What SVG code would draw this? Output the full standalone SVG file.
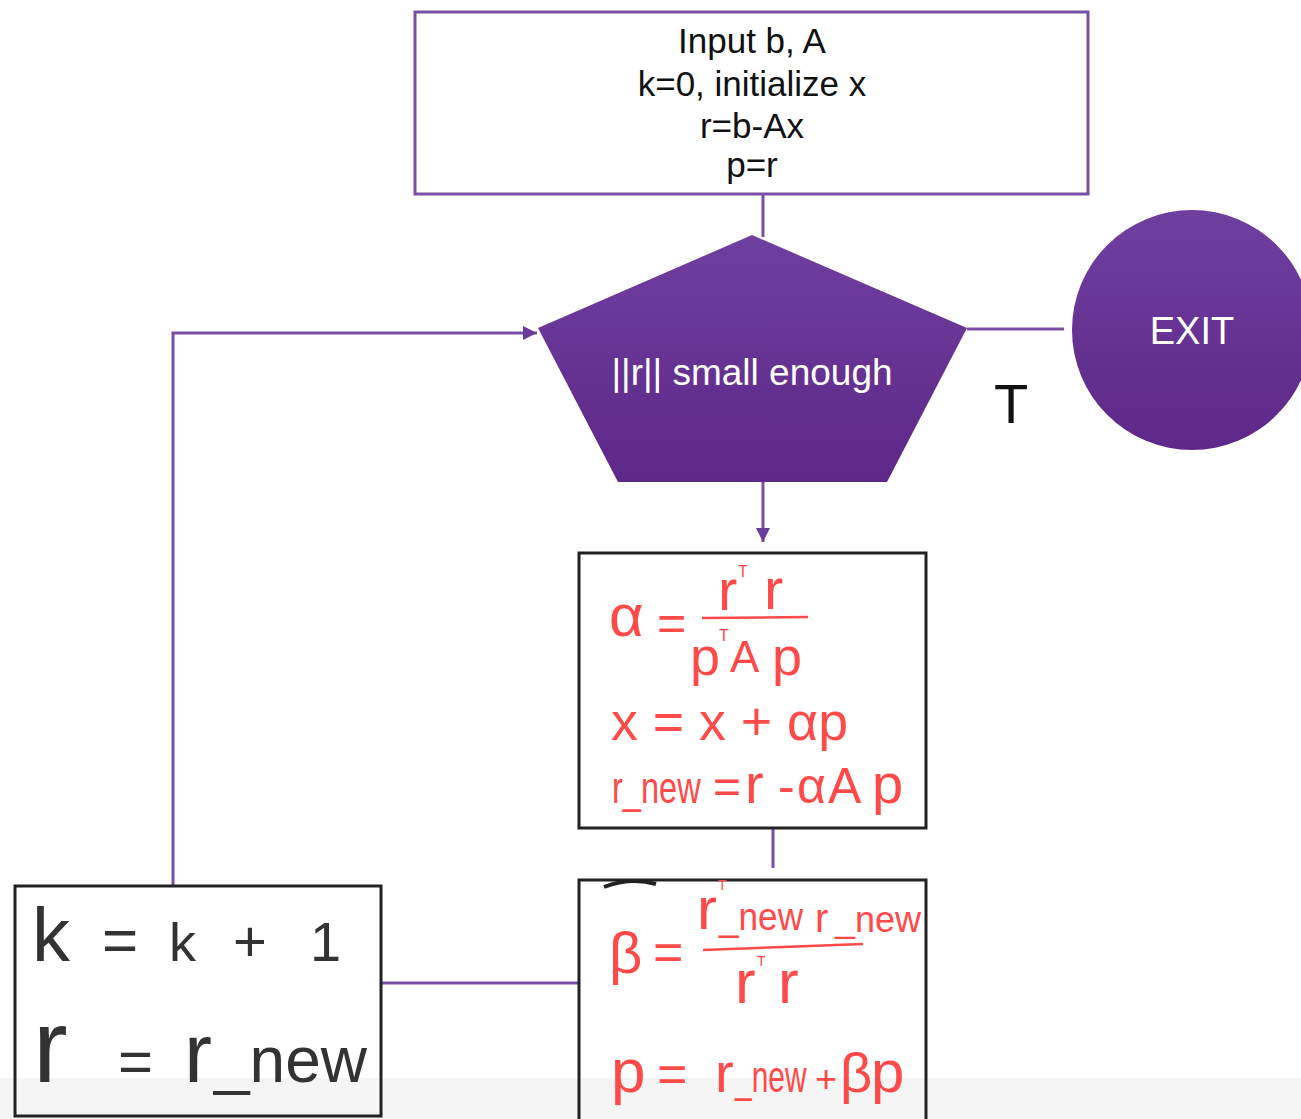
<svg xmlns="http://www.w3.org/2000/svg" width="1301" height="1119" viewBox="0 0 1301 1119">
<defs>
<linearGradient id="gp" x1="0" y1="0" x2="0" y2="1">
<stop offset="0" stop-color="#6f3f9f"/>
<stop offset="1" stop-color="#5e2888"/>
</linearGradient>
<marker id="ah" viewBox="0 0 10 10" refX="10" refY="5" markerWidth="14" markerHeight="14" markerUnits="userSpaceOnUse" orient="auto">
<path d="M0,0 L10,5 L0,10 z" fill="#6a3c9c"/>
</marker>
</defs>
<style>
.pl{fill:none;stroke:#7a4fa5;stroke-width:3}
.bb{fill:none;stroke:#222;stroke-width:3}
.tx{font-family:"Liberation Sans",Arial,sans-serif;font-size:35px;fill:#111;text-anchor:middle}
.wt{font-family:"Liberation Sans",Arial,sans-serif;fill:#fff;text-anchor:middle}
.hw{font-family:"Liberation Sans",Arial,sans-serif;fill:#ff4a4a}
.hk{font-family:"Liberation Sans",Arial,sans-serif;fill:#333}
.fl{stroke:#ff4a4a;stroke-width:2.5;fill:none}
</style>
<rect x="0" y="0" width="1301" height="1119" fill="#fff"/>
<rect x="0" y="1078" width="1301" height="41" fill="#f5f5f5"/>

<g id="connectors">
<line class="pl" x1="763" y1="194" x2="763" y2="237"/>
<line class="pl" x1="967" y1="329" x2="1064" y2="329"/>
<line class="pl" x1="763" y1="482" x2="763" y2="542" marker-end="url(#ah)"/>
<polyline class="pl" points="173,886 173,333 537,333" marker-end="url(#ah)"/>
<line class="pl" x1="773" y1="828" x2="773" y2="868"/>
<line class="pl" x1="381" y1="983" x2="579" y2="983"/>
</g>

<g id="start">
<rect x="415" y="12" width="673" height="182" fill="#fff" stroke="#7a4fa5" stroke-width="3"/>
<text class="tx" x="752" y="53">Input b, A</text>
<text class="tx" x="752" y="96">k=0, initialize x</text>
<text class="tx" x="752" y="138">r=b-Ax</text>
<text class="tx" x="752" y="177">p=r</text>
</g>

<g id="decision">
<polygon points="752,235 967,328 887,482 618,482 538,328" fill="url(#gp)"/>
<text class="wt" x="752" y="385" font-size="37">||r|| small enough</text>
</g>

<g id="label-T">
<text x="1011" y="423" font-family="Liberation Sans, Arial, sans-serif" font-size="56" fill="#111" text-anchor="middle">T</text>
</g>

<g id="exit">
<circle cx="1192" cy="330" r="120" fill="url(#gp)"/>
<text class="wt" x="1192" y="344" font-size="38">EXIT</text>
</g>

<g id="alpha-box">
<rect class="bb" x="579" y="553" width="347" height="275"/>
<text class="hw" x="609" y="636" font-size="60">α</text>
<text class="hw" x="657" y="640" font-size="50">=</text>
<line class="fl" x1="702" y1="618" x2="808" y2="617"/>
<text class="hw" font-size="58"><tspan x="718" y="610">r</tspan><tspan x="738" y="577" font-size="16">T</tspan><tspan x="764" y="609">r</tspan></text>
<text class="hw" font-size="54"><tspan x="690" y="675">p</tspan><tspan x="719" y="641" font-size="16">T</tspan><tspan x="730" y="672" font-size="44">A</tspan><tspan x="772" y="675">p</tspan></text>
<text class="hw" x="611" y="740" font-size="54" textLength="237" lengthAdjust="spacingAndGlyphs">x = x + αp</text>
<text class="hw" font-size="44" transform="translate(612,803) scale(0.74,1)">r_new</text>
<text class="hw" y="803"><tspan x="713" font-size="48">=</tspan><tspan x="745" font-size="56">r</tspan><tspan x="778" font-size="50">-</tspan><tspan x="797" font-size="50">α</tspan><tspan x="828" font-size="50">A</tspan><tspan x="872" font-size="56">p</tspan></text>
</g>

<g id="beta-box">
<rect class="bb" x="579" y="880" width="347" height="245"/>
<path d="M604,887 Q630,877 656,884" fill="none" stroke="#222" stroke-width="4"/>
<text class="hw" x="609" y="973" font-size="58">β</text>
<text class="hw" x="653" y="970" font-size="52">=</text>
<line class="fl" x1="703" y1="950" x2="863" y2="944"/>
<text class="hw"><tspan x="697" y="929" font-size="60">r</tspan><tspan x="718" y="890" font-size="14">T</tspan><tspan x="719" y="930" font-size="38" textLength="84" lengthAdjust="spacingAndGlyphs">_new</tspan><tspan x="815" y="932" font-size="40">r</tspan><tspan x="835" y="932" font-size="36">_new</tspan></text>
<text class="hw" font-size="62"><tspan x="735" y="1003">r</tspan><tspan x="757" y="966" font-size="14">T</tspan><tspan x="778" y="1003">r</tspan></text>
<text class="hw" y="1092"><tspan x="611" font-size="62">p</tspan><tspan x="657" font-size="52">=</tspan><tspan x="715" font-size="56">r</tspan></text>
<text class="hw" font-size="44" transform="translate(735,1092) scale(0.68,1)">_new</text>
<text class="hw" y="1092"><tspan x="815" font-size="38">+</tspan><tspan x="840" font-size="56">β</tspan><tspan x="871" font-size="60">p</tspan></text>
</g>

<g id="update-box">
<rect class="bb" x="15" y="886" width="366" height="230"/>
<text class="hk" y="961"><tspan x="32" font-size="76">k</tspan><tspan x="102" font-size="62">=</tspan><tspan x="169" font-size="54">k</tspan><tspan x="233" font-size="58">+</tspan><tspan x="310" font-size="56">1</tspan></text>
<text class="hk" y="1082"><tspan x="33" font-size="104">r</tspan><tspan x="118" font-size="60">=</tspan><tspan x="184" font-size="84">r</tspan><tspan x="214" font-size="64">_new</tspan></text>
</g>
</svg>
